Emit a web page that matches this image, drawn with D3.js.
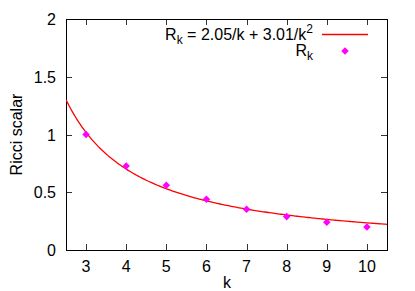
<!DOCTYPE html>
<html><head><meta charset="utf-8">
<script src="https://cdn.jsdelivr.net/npm/d3@7"></script>
<style>body{margin:0;background:#fff}svg{display:block;font-family:"Liberation Sans",Arial,sans-serif}</style>
</head><body><svg id="c" width="415" height="291"></svg>
<script>
const kValues = [3, 4, 5, 6, 7, 8, 9, 10];
const rValues = [1.0, 0.727, 0.56, 0.439, 0.352, 0.289, 0.24, 0.199];
const fitCoefA = 2.05, fitCoefB = 3.01;
const xTicks = [3, 4, 5, 6, 7, 8, 9, 10];
const yTicks = [0, 0.5, 1, 1.5, 2];
const yTickLabels = ["0", "0.5", "1", "1.5", "2"];

const svg = d3.select("#c");
const L = 66, R = 387, T = 19, B = 250;
const FS = 16;
const x = d3.scaleLinear().domain([2.5, 10.5]).range([L, R]);
const y = d3.scaleLinear().domain([0, 2]).range([B, T]);
const tl = 6;

const g = svg.append("g").attr("stroke", "#333").attr("stroke-width", 1);
xTicks.forEach(v => {
  const px = Math.round(x(v)) + 0.5;
  g.append("line").attr("x1", px).attr("x2", px).attr("y1", B).attr("y2", B - tl);
  g.append("line").attr("x1", px).attr("x2", px).attr("y1", T).attr("y2", T + tl);
});
yTicks.forEach(v => {
  const py = Math.round(y(v)) + 0.5;
  g.append("line").attr("x1", L).attr("x2", L + tl).attr("y1", py).attr("y2", py);
  g.append("line").attr("x1", R).attr("x2", R - tl).attr("y1", py).attr("y2", py);
});
svg.append("rect").attr("x", L + 0.5).attr("y", T + 0.5).attr("width", R - L).attr("height", B - T)
  .attr("fill", "none").attr("stroke", "#000").attr("stroke-width", 1);

svg.append("g").selectAll("text").data(xTicks).join("text")
  .attr("x", d => x(d)).attr("y", 272).attr("text-anchor", "middle")
  .attr("font-size", FS).text(d => d);
svg.append("g").selectAll("text").data(yTicks).join("text")
  .attr("x", 56).attr("y", d => y(d) + 6).attr("text-anchor", "end")
  .attr("font-size", FS).text((d, i) => yTickLabels[i]);

svg.append("text").attr("x", 227).attr("y", 288).attr("text-anchor", "middle").attr("font-size", FS).text("k");
svg.append("text").attr("transform", "translate(22," + (T + B) / 2 + ") rotate(-90)")
  .attr("text-anchor", "middle").attr("font-size", FS).text("Ricci scalar");

svg.append("clipPath").attr("id", "pc").append("rect")
  .attr("x", L).attr("y", T).attr("width", R - L).attr("height", B - T);
const samples = d3.range(0, 201).map(i => 2.5 + i * 8 / 200);
const line = d3.line().x(d => x(d)).y(d => y(fitCoefA / d + fitCoefB / (d * d)));
svg.append("path").attr("d", line(samples)).attr("fill", "none")
  .attr("stroke", "#f00").attr("stroke-width", 1.3).attr("clip-path", "url(#pc)");

const diamond = d3.symbol().type(d3.symbolDiamond2).size(36);
svg.append("g").selectAll("path").data(kValues).join("path")
  .attr("transform", (d, i) => `translate(${x(d)},${y(rValues[i])})`)
  .attr("d", diamond).attr("fill", "#f0f");

const lg = svg.append("g").attr("font-size", FS);
const t1 = lg.append("text").attr("x", 313).attr("y", 40).attr("text-anchor", "end");
t1.append("tspan").text("R");
t1.append("tspan").attr("font-size", 12).attr("dy", 4).text("k");
t1.append("tspan").attr("dy", -4).text(" = 2.05/k + 3.01/k");
t1.append("tspan").attr("font-size", 12).attr("dy", -7).text("2");
lg.append("line").attr("x1", 322).attr("x2", 368).attr("y1", 34.5).attr("y2", 34.5)
  .attr("stroke", "#f00").attr("stroke-width", 1.3);
const t2 = lg.append("text").attr("x", 313).attr("y", 56).attr("text-anchor", "end");
t2.append("tspan").text("R");
t2.append("tspan").attr("font-size", 12).attr("dy", 4).text("k");
lg.append("path").attr("transform", "translate(345,51)").attr("d", diamond).attr("fill", "#f0f");
</script></body></html>
